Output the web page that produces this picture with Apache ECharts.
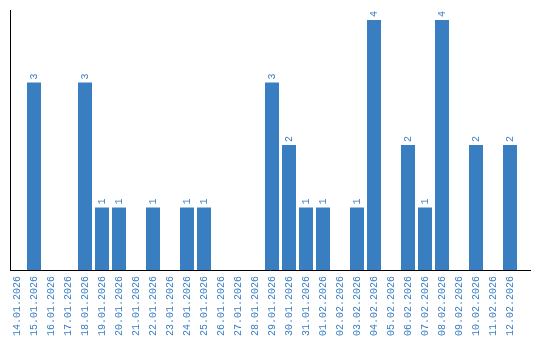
<!DOCTYPE html>
<html><head><meta charset="utf-8">
<script src="https://cdn.jsdelivr.net/npm/echarts@6/dist/echarts.min.js"></script>
<style>html,body{margin:0;padding:0;background:#fff}#c{width:540px;height:340px}</style>
</head><body><div id="c"></div>
<script>
var categories = ["14.01.2026","15.01.2026","16.01.2026","17.01.2026","18.01.2026","19.01.2026","20.01.2026","21.01.2026","22.01.2026","23.01.2026","24.01.2026","25.01.2026","26.01.2026","27.01.2026","28.01.2026","29.01.2026","30.01.2026","31.01.2026","01.02.2026","02.02.2026","03.02.2026","04.02.2026","05.02.2026","06.02.2026","07.02.2026","08.02.2026","09.02.2026","10.02.2026","11.02.2026","12.02.2026"];
var values = [0,3,0,0,3,1,1,0,1,0,1,1,0,0,0,3,2,1,1,0,1,4,0,2,1,4,0,2,0,2];
var color = '#3a7ec2';
var font = 'Liberation Mono';
var chart = echarts.init(document.getElementById('c'));
chart.setOption({
  animation: false,
  grid: {left: 8.5, width: 510, top: 10, height: 260, containLabel: false},
  graphic: [
    {type: 'line', shape: {x1: 10, y1: 270.5, x2: 531, y2: 270.5}, style: {stroke: '#000', lineWidth: 1}, z: 10},
    {type: 'line', shape: {x1: 10.5, y1: 10, x2: 10.5, y2: 270}, style: {stroke: '#000', lineWidth: 1}, z: 10}
  ],
  xAxis: {
    type: 'category', data: categories,
    axisLine: {show: false},
    axisTick: {show: false},
    axisLabel: {rotate: 90, interval: 0, color: color, fontFamily: font, fontSize: 10, margin: 6}
  },
  yAxis: {
    type: 'value', min: 0, max: 4.16,
    axisLine: {show: false},
    axisTick: {show: false}, axisLabel: {show: false}, splitLine: {show: false}
  },
  series: [{
    type: 'bar', data: values, barWidth: 14,
    itemStyle: {color: color},
    label: {show: true, position: 'top', rotate: 90, align: 'left', verticalAlign: 'middle', distance: 3,
      color: color, fontFamily: font, fontSize: 10,
      formatter: function(p){ return p.value ? String(p.value) : ''; }}
  }]
});
</script></body></html>
